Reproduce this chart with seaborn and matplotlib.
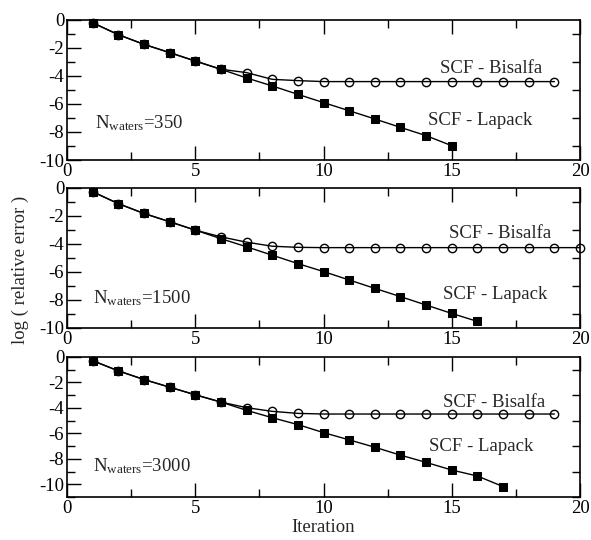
import numpy as np
import pandas as pd
import matplotlib
matplotlib.use("Agg")
import matplotlib.pyplot as plt
import seaborn as sns
from matplotlib.ticker import MultipleLocator

# Values
lapack_350 = [-0.2, -1.05, -1.74, -2.33, -2.93, -3.52, -4.14, -4.71, -5.31, -5.9,
              -6.48, -7.07, -7.67, -8.26, -8.98]
bisalfa_350 = [-0.2, -1.05, -1.74, -2.33, -2.93, -3.52, -3.76, -4.24, -4.33, -4.4,
               -4.4, -4.4, -4.4, -4.4, -4.4, -4.4, -4.4, -4.4, -4.4]
lapack_1500 = [-0.27, -1.12, -1.82, -2.41, -3.01, -3.62, -4.2, -4.8, -5.4, -5.97,
               -6.57, -7.17, -7.76, -8.36, -8.96, -9.53]
bisalfa_1500 = [-0.27, -1.12, -1.82, -2.41, -3.01, -3.49, -3.87, -4.16, -4.24, -4.26,
                -4.26, -4.26, -4.26, -4.26, -4.26, -4.26, -4.26, -4.26, -4.26, -4.26]
lapack_3000 = [-0.29, -1.09, -1.77, -2.37, -2.97, -3.54, -4.19, -4.77, -5.31, -5.94,
               -6.51, -7.09, -7.71, -8.28, -8.88, -9.35, -10.18]
bisalfa_3000 = [-0.29, -1.09, -1.77, -2.37, -2.97, -3.54, -3.98, -4.27, -4.43, -4.48,
                -4.48, -4.48, -4.48, -4.48, -4.48, -4.48, -4.48, -4.48, -4.48]

n_waters = [350, 1500, 3000]
ylims = [(-10, 0), (-10, 0), (-11, 0)]
series = [(lapack_350, bisalfa_350), (lapack_1500, bisalfa_1500), (lapack_3000, bisalfa_3000)]

# label positions (data coords)
bis_pos = [(14.55, -3.5), (14.9, -3.25), (14.67, -3.57)]
lap_pos = [(14.07, -7.2), (14.65, -7.6), (14.1, -7.05)]
n_pos = [(1.1, -7.4), (1.0, -7.9), (1.0, -8.6)]

sns.set_style("ticks")
plt.rcParams['font.family'] = ['Liberation Serif', 'DejaVu Serif']
plt.rcParams['mathtext.fontset'] = 'custom'
plt.rcParams['mathtext.rm'] = 'Liberation Serif'
plt.rcParams['mathtext.it'] = 'Liberation Serif'
plt.rcParams['axes.unicode_minus'] = False
FS = 13.5

fig = plt.figure(figsize=(5.91, 5.40), dpi=100)
bottoms = [0.7037, 0.3926, 0.0796]

for i, (lap, bis) in enumerate(series):
    ax = fig.add_axes([0.1134, bottoms[i], 0.868, 0.2593])
    df_lap = pd.DataFrame({'it': np.arange(1, len(lap) + 1), 'err': lap})
    df_bis = pd.DataFrame({'it': np.arange(1, len(bis) + 1), 'err': bis})
    sns.lineplot(data=df_bis, x='it', y='err', ax=ax, color='black', lw=1,
                 marker='o', markersize=6, markerfacecolor='none',
                 markeredgecolor='black', markeredgewidth=1, clip_on=False, zorder=3)
    sns.lineplot(data=df_lap, x='it', y='err', ax=ax, color='black', lw=1,
                 marker='s', markersize=5.5, markerfacecolor='black',
                 markeredgecolor='black', clip_on=False, zorder=4)

    ax.set_xlim(0, 20)
    ax.set_ylim(*ylims[i])
    ax.xaxis.set_major_locator(MultipleLocator(5))
    ax.xaxis.set_minor_locator(MultipleLocator(2.5))
    ax.yaxis.set_major_locator(MultipleLocator(2))
    ax.yaxis.set_minor_locator(MultipleLocator(1))
    ax.tick_params(which='both', direction='in', top=True, right=True,
                   labelsize=FS, width=1, colors='black')
    ax.tick_params(which='major', length=10, pad=2)
    ax.tick_params(which='minor', length=6)
    ax.tick_params(axis='y', which='major', right=False)
    ax.tick_params(axis='y', which='minor', right=True)
    for sp in ax.spines.values():
        sp.set_linewidth(1.2)
        sp.set_color('black')
    ax.set_xlabel('')
    ax.set_ylabel('')

    ax.text(*bis_pos[i], 'SCF - Bisalfa', fontsize=FS, va='center', ha='left')
    ax.text(*lap_pos[i], 'SCF - Lapack', fontsize=FS, va='center', ha='left')
    ax.text(*n_pos[i], r'N$_{\mathrm{waters}}$=' + str(n_waters[i]), fontsize=FS,
            va='center', ha='left')

fig.text(0.034, 0.5, 'log ( relative error )', rotation=90, fontsize=FS,
         va='center', ha='center')
fig.text(0.547, 0.024, 'Iteration', fontsize=FS, va='center', ha='center')

fig.savefig('out.png', dpi=100)
